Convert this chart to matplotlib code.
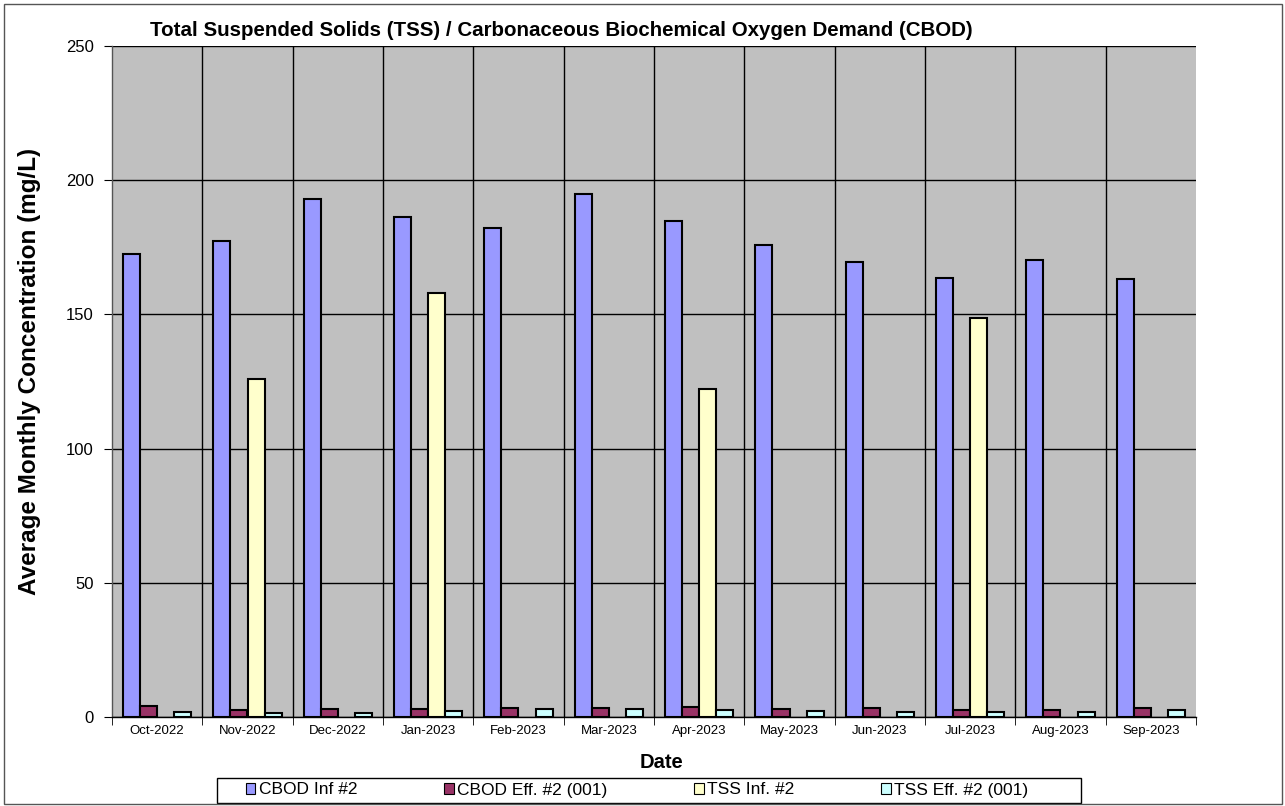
import numpy as np
import matplotlib
matplotlib.use("Agg")
import matplotlib.pyplot as plt
from matplotlib.patches import Rectangle

plt.rcParams.update({"font.family": ["Liberation Sans", "DejaVu Sans"]})

months = ["Oct-2022", "Nov-2022", "Dec-2022", "Jan-2023", "Feb-2023", "Mar-2023",
          "Apr-2023", "May-2023", "Jun-2023", "Jul-2023", "Aug-2023", "Sep-2023"]
cbod_inf = [172.5, 177.2, 193.1, 186.4, 182.2, 194.8, 184.8, 176.0, 169.4, 163.4, 170.3, 163.3]
cbod_eff = [4.2, 2.6, 3.1, 3.1, 3.5, 3.5, 3.6, 3.1, 3.3, 2.7, 2.7, 3.4]
tss_inf = [np.nan, 125.9, np.nan, 158.0, np.nan, np.nan, 122.3, np.nan, np.nan, 148.5, np.nan, np.nan]
tss_eff = [2.0, 1.4, 1.6, 2.3, 3.1, 3.0, 2.7, 2.1, 2.0, 2.0, 1.9, 2.6]

series = [("CBOD Inf #2", cbod_inf, "#9999FF"),
          ("CBOD Eff. #2 (001)", cbod_eff, "#993366"),
          ("TSS Inf. #2", tss_inf, "#FFFFCC"),
          ("TSS Eff. #2 (001)", tss_eff, "#CCFFFF")]

W, H = 1285, 806
fig = plt.figure(figsize=(W / 100, H / 100), dpi=100)
ax = fig.add_axes([112 / W, 1 - 717 / H, (1196 - 112) / W, (717 - 46) / H])
ax.set_facecolor("#C0C0C0")

x = np.arange(len(months))
w = 0.19
for i, (name, vals, col) in enumerate(series):
    ax.bar(x + (i - 1.5) * w, vals, width=w, color=col, edgecolor="black",
           linewidth=1.5, label=name, zorder=3)

ax.set_xlim(-0.5, len(months) - 0.5)
ax.set_ylim(0, 250)
ax.set_yticks(range(0, 251, 50))
ax.yaxis.grid(True, color="black", linewidth=1.0, zorder=1)
for b in np.arange(0.5, len(months) - 0.5):
    ax.axvline(b, color="black", linewidth=1.0, zorder=1)
ax.set_xticks(x)
ax.set_xticklabels(months, fontsize=9.5)
ax.set_xticks(np.arange(-0.5, len(months)), minor=True)
ax.tick_params(axis="x", which="major", length=0, pad=6)
ax.tick_params(axis="x", which="minor", length=6, color="black", direction="out")
ax.tick_params(axis="y", labelsize=12, length=6, direction="out", pad=7)
for s in ax.spines.values():
    s.set_color("black")
    s.set_linewidth(1.0)
ax.spines["top"].set_visible(False)
ax.spines["right"].set_visible(False)
ax.spines["left"].set_color("#555555")

fig.text(561 / W, 1 - 30 / H,
         "Total Suspended Solids (TSS) / Carbonaceous Biochemical Oxygen Demand (CBOD)",
         ha="center", va="center", fontsize=14.8, fontweight="bold")
fig.text(30 / W, 1 - 371 / H, "Average Monthly Concentration (mg/L)", rotation=90,
         ha="center", va="center", fontsize=17.5, fontweight="bold")
fig.text(662 / W, 1 - 762 / H, "Date", ha="center", va="center",
         fontsize=14.5, fontweight="bold")

# legend box drawn separately so the entries can sit centred inside it
fig.patches.append(Rectangle((217 / W, 1 - 803 / H), 864 / W, 25 / H,
                             transform=fig.transFigure, fill=False,
                             edgecolor="black", linewidth=1.0))
leg = fig.legend(loc="center", ncol=4, bbox_to_anchor=(637 / W, 1 - 790 / H),
                 fontsize=12.5, frameon=False,
                 handlelength=0.55, handleheight=0.55, handletextpad=0.2,
                 borderpad=0.0, columnspacing=5.0)
for h in leg.legend_handles:
    h.set_linewidth(0.8)

fig.patches.append(Rectangle((4 / W, 2 / H), 1278 / W, 800 / H,
                             transform=fig.transFigure, fill=False,
                             edgecolor="#555555", linewidth=1.0))

fig.savefig("out.png", dpi=100)
